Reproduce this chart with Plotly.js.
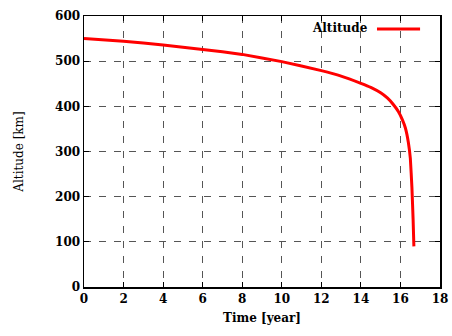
<!DOCTYPE html>
<html>
<head>
<meta charset="utf-8">
<script src="https://cdn.plot.ly/plotly-3.0.1.min.js"></script>
<style>html,body{margin:0;padding:0;background:#fff}#chart{width:452px;height:336px}</style>
</head>
<body>
<div id="chart"></div>
<script>
const timeYears = [0, 2, 4, 6, 8, 10, 12, 13, 14, 14.5, 15, 15.35, 15.66, 15.9, 16.1, 16.25, 16.4, 16.5, 16.58, 16.64, 16.68];
const altitudeKm = [550, 544, 536, 526, 515, 499, 479, 467, 451, 442, 430, 418, 403, 388, 370, 352, 320, 285, 220, 150, 90];
const xTicks = [0, 2, 4, 6, 8, 10, 12, 14, 16, 18];
const yTicks = [0, 100, 200, 300, 400, 500, 600];
const seriesName = "Altitude";

const tickFont = {family: "DejaVu Serif", size: 12, color: "#000", weight: "bold"};
const axisCommon = {
  showline: true, linecolor: "#000", linewidth: 1.5, mirror: "allticks",
  ticks: "inside", ticklen: 5, tickwidth: 1, tickcolor: "#000",
  showgrid: true, gridcolor: "#555", griddash: "7px,8px", gridwidth: 1,
  zeroline: false, tickfont: tickFont
};

Plotly.newPlot("chart", [{
  x: timeYears, y: altitudeKm, type: "scatter", mode: "lines",
  name: seriesName, line: {color: "#ff0000", width: 3, shape: "spline", smoothing: 0.3}, showlegend: false
}], {
  width: 452, height: 336,
  margin: {l: 84, r: 12, t: 16, b: 49},
  paper_bgcolor: "#fff", plot_bgcolor: "#fff",
  xaxis: Object.assign({}, axisCommon, {
    range: [0, 18], tickvals: xTicks, ticktext: xTicks.map(String),
    title: {text: "Time [year]", font: {family: "DejaVu Serif", size: 12, weight: "bold", color: "#000"}, standoff: 8}
  }),
  yaxis: Object.assign({}, axisCommon, {
    range: [0, 600], tickvals: yTicks, ticktext: yTicks.map(String),
    title: {text: "Altitude [km]", font: {family: "DejaVu Serif", size: 12, color: "#000"}, standoff: 29}
  }),
  annotations: [{
    xref: "paper", yref: "paper", x: 0.803, y: 0.955, xanchor: "right", yanchor: "middle",
    text: seriesName, showarrow: false,
    font: {family: "DejaVu Serif", size: 12, weight: "bold", color: "#000"}
  }],
  shapes: [{
    type: "line", xref: "paper", yref: "paper", x0: 0.823, x1: 0.944, y0: 0.952, y1: 0.952,
    line: {color: "#ff0000", width: 3}
  }]
}, {displayModeBar: false, staticPlot: true});
</script>
</body>
</html>
